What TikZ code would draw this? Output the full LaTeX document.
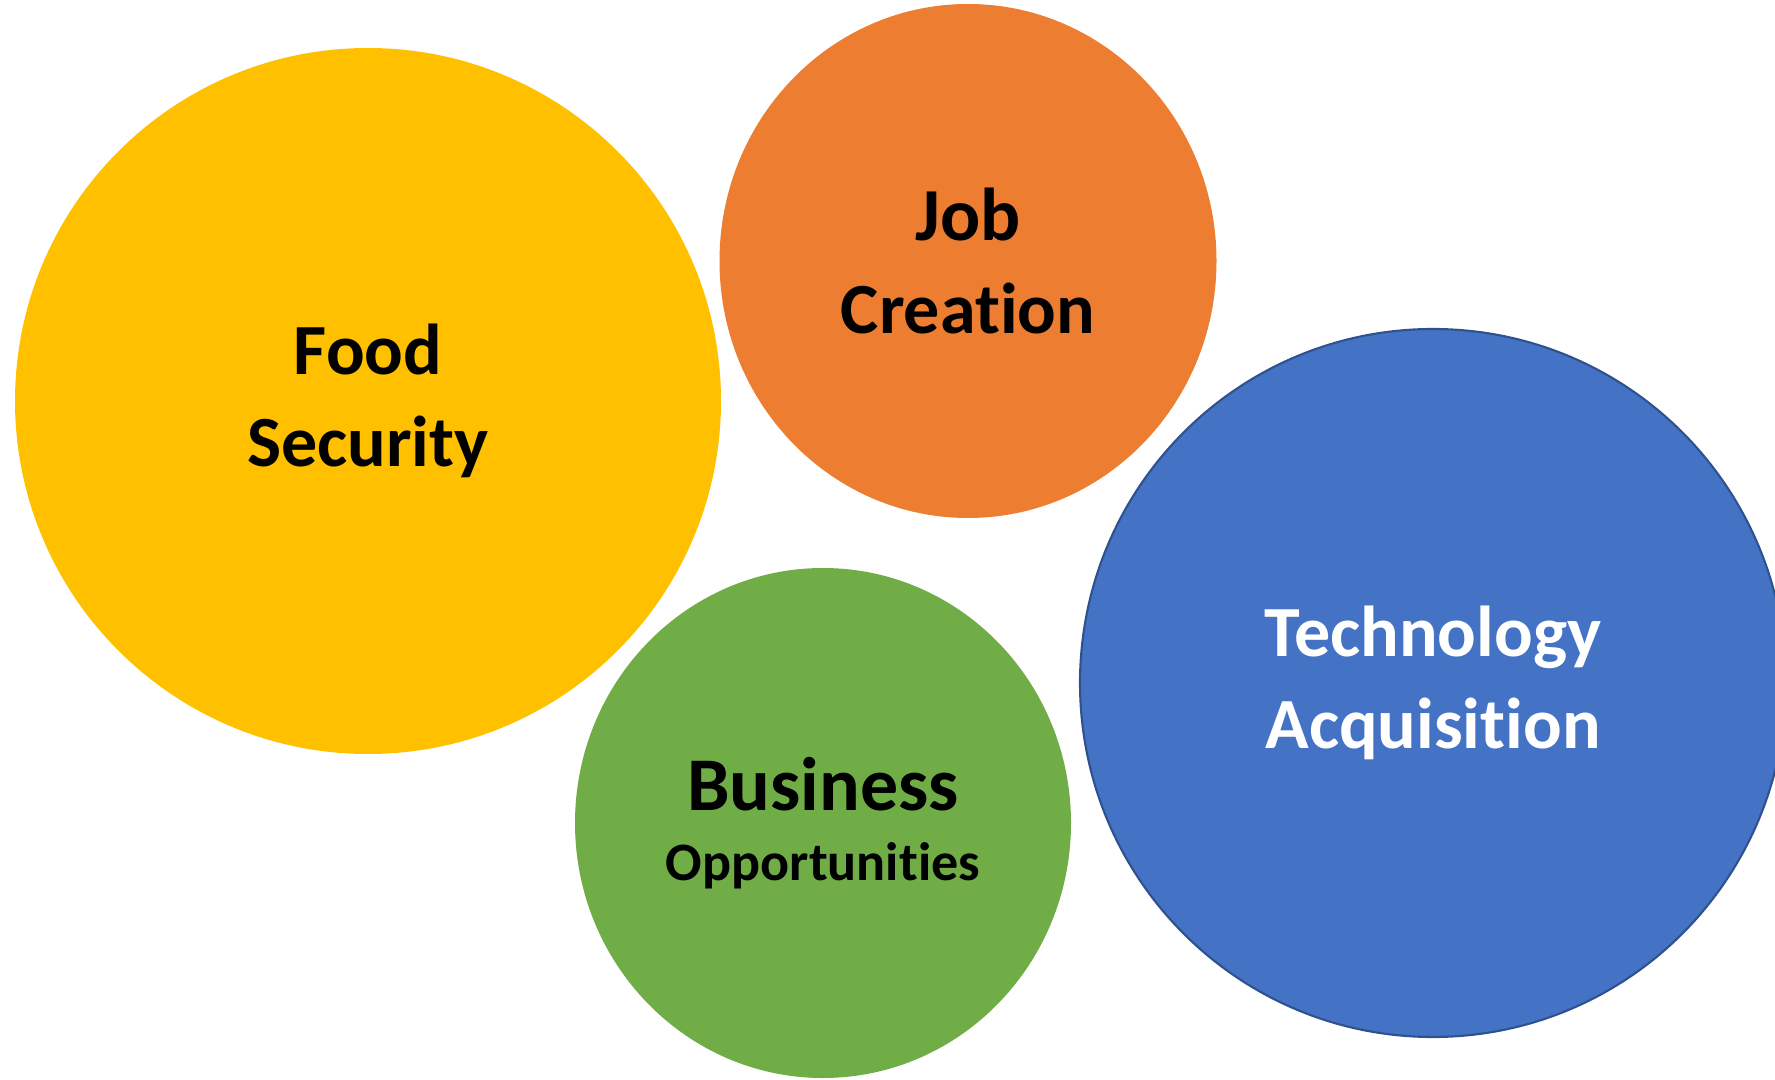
\documentclass[tikz,border=0pt]{standalone}
\usepackage{fontspec}
\setmainfont{Carlito}[Ligatures=NoCommon]
\usetikzlibrary{shapes.geometric}
\definecolor{foodyellow}{RGB}{255,192,0}
\definecolor{joborange}{RGB}{237,125,49}
\definecolor{bizgreen}{RGB}{112,173,71}
\definecolor{techblue}{RGB}{68,114,196}
\definecolor{techline}{RGB}{47,82,143}

\begin{document}
\begin{tikzpicture}
    \tikzstyle{bubble} = [ellipse, inner sep=0pt, align=center, font=\bfseries\fontsize{20.5}{26.2}\selectfont]

    \clip (0,0) rectangle (17.75,10.79);

    \node[bubble, fill=foodyellow, minimum width=7.06cm, minimum height=7.06cm] (food) at (3.68,6.78) {Food\\Security};
    \node[bubble, fill=joborange, minimum width=4.97cm, minimum height=5.14cm] (job) at (9.68,8.18) {\fontsize{21.3}{26.5}\selectfont Job\\Creation};
    \node[bubble, fill=bizgreen, minimum width=4.96cm, minimum height=5.10cm] (business) at (8.23,2.56)
        {\fontsize{21.6}{25}\selectfont Business\\[-6.3pt]\fontsize{15.4}{18}\selectfont Opportunities};
    \node[bubble, fill=techblue, draw=techline, line width=0.6pt, text=white, minimum width=7.06cm, minimum height=7.08cm] (tech) at (14.33,3.96) {Technology\\Acquisition};
\end{tikzpicture}
\end{document}
